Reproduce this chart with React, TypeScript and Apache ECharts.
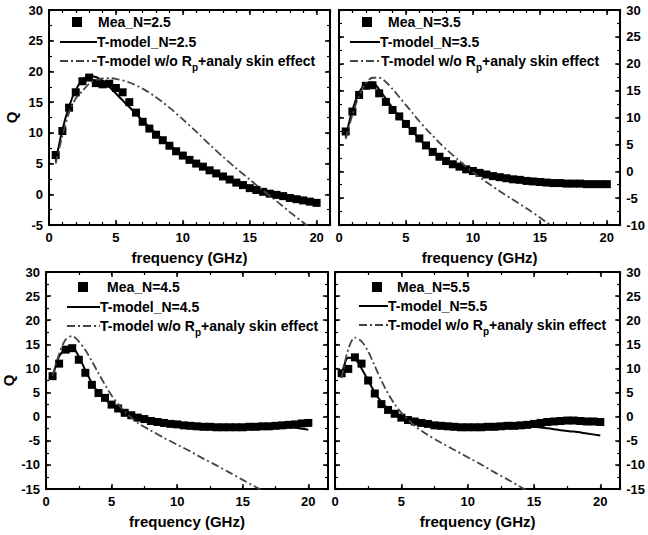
import React, { useEffect, useRef } from "react";
import * as echarts from "echarts";

// ---------------- data ----------------
const measFreq = [0.5, 1, 1.5, 2, 2.5, 3, 3.5, 4, 4.5, 5, 5.5, 6, 6.5, 7, 7.5, 8, 8.5, 9, 9.5, 10,
  10.5, 11, 11.5, 12, 12.5, 13, 13.5, 14, 14.5, 15, 15.5, 16, 16.5, 17, 17.5, 18, 18.5, 19, 19.5, 20];

const mea25 = [6.4, 10.3, 14.1, 16.6, 18.4, 19.0, 18.1, 17.9, 18.0, 17.3, 16.6, 15.0, 13.3, 11.8, 10.7, 9.7, 8.8, 7.9, 7.0, 6.3,
  5.6, 5.0, 4.5, 3.9, 3.4, 2.9, 2.4, 1.9, 1.5, 1.0, 0.7, 0.4, 0.1, -0.1, -0.3, -0.6, -0.8, -1.0, -1.2, -1.4];
const mea35 = [7.4, 11.1, 14.2, 15.9, 16.0, 14.5, 12.9, 11.4, 10.2, 8.8, 7.5, 6.1, 4.8, 3.6, 2.7, 1.9, 1.3, 0.85, 0.35, 0.05,
  -0.3, -0.6, -0.9, -1.1, -1.3, -1.5, -1.6, -1.8, -1.9, -2.0, -2.1, -2.2, -2.2, -2.3, -2.3, -2.3, -2.4, -2.4, -2.4, -2.4];
const mea45 = [8.4, 11.0, 13.9, 14.2, 11.8, 9.1, 6.6, 4.9, 3.9, 2.5, 1.7, 0.8, 0.3, -0.2, -0.5, -0.9, -1.1, -1.3, -1.5, -1.6,
  -1.8, -1.9, -2.0, -2.1, -2.1, -2.2, -2.2, -2.2, -2.2, -2.2, -2.1, -2.1, -2.0, -2.0, -1.9, -1.8, -1.7, -1.6, -1.4, -1.3];
const mea55 = [9.0, 9.9, 12.3, 11.0, 7.5, 4.8, 2.6, 1.4, 0.6, -0.2, -0.7, -1.0, -1.3, -1.5, -1.8, -1.9, -2.0, -2.1, -2.2, -2.2,
  -2.2, -2.2, -2.1, -2.1, -2.0, -1.9, -1.9, -1.8, -1.7, -1.5, -1.3, -1.1, -1.0, -0.9, -0.8, -0.8, -0.9, -1.0, -1.0, -1.1];

const modelFreq = [0.5, 1, 1.5, 2, 2.5, 3, 3.5, 4, 4.5, 5, 5.5, 6, 6.5, 7, 7.5, 8, 9, 10, 11, 12, 13, 14, 15, 16, 17, 18, 19, 20];
const tm25 = [5.3, 10.5, 14.3, 17.0, 18.6, 19.2, 19.1, 18.5, 17.5, 16.4, 15.3, 14.2, 13.1, 12.0, 10.9, 9.9, 8.0, 6.4, 5.0, 3.9, 2.9, 2.0, 1.2, 0.5, -0.1, -0.6, -1.0, -1.4];
const tm35 = [6.3, 11.4, 14.6, 16.3, 16.5, 15.2, 13.5, 11.8, 10.2, 8.8, 7.4, 6.0, 4.7, 3.6, 2.7, 1.9, 0.8, 0.0, -0.6, -1.1, -1.5, -1.8, -2.0, -2.2, -2.3, -2.3, -2.4, -2.4];
const tm45 = [8.0, 12.5, 14.0, 14.3, 12.5, 9.6, 7.0, 5.0, 3.6, 2.4, 1.4, 0.6, 0.0, -0.4, -0.7, -1.0, -1.4, -1.7, -1.9, -2.1, -2.2, -2.2, -2.2, -2.1, -2.0, -2.0, -2.3, -2.7];
const tm55 = [8.5, 12.2, 12.0, 10.0, 7.5, 5.0, 3.0, 1.6, 0.6, -0.1, -0.6, -1.0, -1.3, -1.5, -1.7, -1.9, -2.2, -2.2, -2.2, -2.1, -2.0, -1.9, -2.1, -2.4, -2.8, -3.1, -3.5, -3.9];

const ddFreq25 = [0.5, 1, 1.5, 2, 2.5, 3, 3.5, 4, 4.5, 5, 6, 7, 8, 9, 10, 11, 12, 13, 14, 15, 16, 17, 18, 19, 19.5];
const dd25 = [5.0, 9.5, 13.3, 15.6, 16.8, 18.0, 18.6, 18.85, 18.9, 18.8, 18.2, 17.2, 15.8, 14.1, 12.2, 10.2, 8.1, 6.1, 4.2, 2.4, 0.6, -1.1, -2.9, -4.6, -5.5];
const ddFreq35 = [0.5, 1, 1.5, 2, 2.5, 3, 3.5, 4, 4.5, 5, 5.5, 6, 6.5, 7, 7.5, 8, 9, 10, 11, 12, 13, 14, 15, 16];
const dd35 = [6.0, 10.5, 14.0, 16.3, 17.4, 17.4, 16.6, 15.3, 13.8, 12.3, 10.8, 9.3, 7.9, 6.6, 5.3, 4.1, 1.9, -0.2, -2.0, -3.7, -5.3, -6.9, -8.6, -10.4];
const ddFreq45 = [0.5, 1, 1.5, 2, 2.5, 3, 3.5, 4, 4.5, 5, 5.5, 6, 6.5, 7, 8, 9, 10, 11, 12, 13, 14, 15, 16, 16.5];
const dd45 = [8.5, 13.0, 16.0, 16.7, 15.6, 13.8, 11.5, 9.0, 6.6, 4.4, 2.6, 1.1, -0.2, -1.3, -2.9, -4.4, -5.8, -7.2, -8.7, -10.1, -11.6, -13.1, -14.6, -15.4];
const ddFreq55 = [0.5, 1, 1.5, 2, 2.5, 3, 3.5, 4, 4.5, 5, 5.5, 6, 7, 8, 9, 10, 11, 12, 13, 14, 14.5];
const dd55 = [8.0, 14.0, 16.4, 15.6, 13.5, 10.5, 7.5, 4.8, 2.6, 0.8, -0.6, -1.9, -3.8, -5.4, -6.9, -8.4, -9.9, -11.5, -13.0, -14.6, -15.4];

const meaNames = ["Mea_N=2.5", "Mea_N=3.5", "Mea_N=4.5", "Mea_N=5.5"];
const tmNames = ["T-model_N=2.5", "T-model_N=3.5", "T-model_N=4.5", "T-model_N=5.5"];
const ddName = "T-model w/o Rp+analy skin effect";
const xAxisName = "frequency (GHz)";
const yAxisName = "Q";

// ---------------- layout ----------------
const FONT = '"Liberation Sans", Arial, Helvetica, sans-serif';
const LEG_SIZE = 14;
const SUB_SIZE = 10;

const panels = [
  { grid: { left: 49, top: 10, width: 281, height: 215 }, xMax: 21, xMinor: 1, yMin: -5, labelsRight: false,
    mea: mea25, tm: tm25, ddF: ddFreq25, dd: dd25,
    lg: { sq: [77, 22], t1: 98, l: [60, 97], t2: 97, t3: 97, y: [22, 42, 61] } },
  { grid: { left: 339, top: 10, width: 283, height: 215 }, xMax: 21, xMinor: 1, yMin: -10, labelsRight: true,
    mea: mea35, tm: tm35, ddF: ddFreq35, dd: dd35,
    lg: { sq: [367, 22], t1: 388, l: [350, 380], t2: 380, t3: 381, y: [22, 42, 61] } },
  { grid: { left: 46, top: 272, width: 282, height: 217 }, xMax: 21.5, xMinor: 2.5, yMin: -15, labelsRight: false,
    mea: mea45, tm: tm45, ddF: ddFreq45, dd: dd45,
    lg: { sq: [83, 287], t1: 107, l: [67, 100], t2: 100, t3: 100, y: [287, 307, 326] } },
  { grid: { left: 335, top: 272, width: 287, height: 217 }, xMax: 21.5, xMinor: 2.5, yMin: -15, labelsRight: true,
    mea: mea55, tm: tm55, ddF: ddFreq55, dd: dd55,
    lg: { sq: [377, 287], t1: 397, l: [359, 388], t2: 388, t3: 388, y: [287, 306, 325] } },
];

function measure(text: string, size: number) {
  const c = document.createElement("canvas").getContext("2d");
  if (!c) return text.length * size * 0.55;
  c.font = `bold ${size}px ${FONT}`;
  return c.measureText(text).width;
}

export default function App() {
  const ref = useRef<HTMLDivElement>(null);

  useEffect(() => {
    if (!ref.current) return;
    const chart = echarts.init(ref.current, undefined, { renderer: "svg" });

    const grids: any[] = [];
    const xAxes: any[] = [];
    const yAxes: any[] = [];
    const series: any[] = [];
    const graphics: any[] = [];

    const lbl = { color: "#000", fontWeight: "bold", fontSize: 13, fontFamily: FONT };
    const nameStyle = { color: "#000", fontWeight: "bold", fontSize: 15, fontFamily: FONT };

    panels.forEach((p, gi) => {
      grids.push({ ...p.grid, containLabel: false });
      const xBase = { type: "value", gridIndex: gi, min: 0, max: p.xMax, splitLine: { show: false } };
      const xMajorIdx = xAxes.length;
      xAxes.push({
        ...xBase, position: "bottom", interval: 5,
        axisLine: { show: true, onZero: false, lineStyle: { color: "#000", width: 2 } },
        axisTick: { show: true, inside: true, length: 5, lineStyle: { color: "#000", width: 1.5 } },
        axisLabel: { ...lbl, margin: 6, showMaxLabel: false, formatter: (v: number) => (v % 5 === 0 ? String(v) : "") },
        name: xAxisName, nameLocation: "middle", nameGap: 25, nameTextStyle: nameStyle,
      });
      xAxes.push({
        ...xBase, position: "bottom", interval: p.xMinor,
        axisLine: { show: false, onZero: false },
        axisTick: { show: true, inside: true, length: 3, lineStyle: { color: "#000", width: 1.2 } },
        axisLabel: { show: false },
      });
      xAxes.push({
        ...xBase, position: "top", interval: 5,
        axisLine: { show: true, onZero: false, lineStyle: { color: "#000", width: 2 } },
        axisTick: { show: true, inside: true, length: 5, lineStyle: { color: "#000", width: 1.5 } },
        axisLabel: { show: false },
      });
      xAxes.push({
        ...xBase, position: "top", interval: p.xMinor,
        axisLine: { show: false, onZero: false },
        axisTick: { show: true, inside: true, length: 3, lineStyle: { color: "#000", width: 1.2 } },
        axisLabel: { show: false },
      });

      const yBase = { type: "value", gridIndex: gi, min: p.yMin, max: 30, splitLine: { show: false } };
      const yMajorIdx = yAxes.length;
      const labelSide = p.labelsRight ? "right" : "left";
      const otherSide = p.labelsRight ? "left" : "right";
      yAxes.push({
        ...yBase, position: labelSide, interval: 5,
        axisLine: { show: true, onZero: false, lineStyle: { color: "#000", width: 2 } },
        axisTick: { show: true, inside: true, length: 5, lineStyle: { color: "#000", width: 1.5 } },
        axisLabel: { ...lbl, margin: 6 },
        ...(p.labelsRight ? {} : {
          name: yAxisName, nameLocation: "middle", nameGap: 30, nameRotate: 90, nameTextStyle: nameStyle,
        }),
      });
      yAxes.push({
        ...yBase, position: labelSide, interval: 2.5,
        axisLine: { show: false, onZero: false },
        axisTick: { show: true, inside: true, length: 3, lineStyle: { color: "#000", width: 1.2 } },
        axisLabel: { show: false },
      });
      yAxes.push({
        ...yBase, position: otherSide, interval: 5,
        axisLine: { show: true, onZero: false, lineStyle: { color: "#000", width: 2 } },
        axisTick: { show: true, inside: true, length: 5, lineStyle: { color: "#000", width: 1.5 } },
        axisLabel: { show: false },
      });
      yAxes.push({
        ...yBase, position: otherSide, interval: 2.5,
        axisLine: { show: false, onZero: false },
        axisTick: { show: true, inside: true, length: 3, lineStyle: { color: "#000", width: 1.2 } },
        axisLabel: { show: false },
      });

      series.push({
        name: tmNames[gi], type: "line", xAxisIndex: xMajorIdx, yAxisIndex: yMajorIdx,
        showSymbol: false, symbol: "none", smooth: 0.3,
        lineStyle: { color: "#000", width: 2 },
        data: modelFreq.map((f, i) => [f, p.tm[i]]), z: 3,
      });
      series.push({
        name: meaNames[gi], type: "scatter", xAxisIndex: xMajorIdx, yAxisIndex: yMajorIdx,
        symbol: "rect", symbolSize: 8, itemStyle: { color: "#000", opacity: 1 },
        data: measFreq.map((f, i) => [f, p.mea[i]]), z: 4,
      });
      series.push({
        name: ddName, type: "line", xAxisIndex: xMajorIdx, yAxisIndex: yMajorIdx,
        showSymbol: false, symbol: "none", smooth: 0.3, clip: true,
        lineStyle: { color: "#444", width: 1.8, type: [8, 3, 2, 3] },
        data: p.ddF.map((f, i) => [f, p.dd[i]]), z: 5,
      });

      const lg = p.lg;
      const textStyle = (t: string, size = LEG_SIZE) => ({
        text: t, fill: "#000", fontSize: size, fontWeight: "bold", fontFamily: FONT,
        verticalAlign: "middle", align: "left",
      });
      graphics.push({ type: "rect", shape: { x: lg.sq[0] - 5, y: lg.sq[1] - 5, width: 10, height: 10 }, style: { fill: "#000" } });
      graphics.push({ type: "text", x: lg.t1, y: lg.y[0], style: textStyle(meaNames[gi]) });
      graphics.push({ type: "line", shape: { x1: lg.l[0], y1: lg.y[1], x2: lg.l[1], y2: lg.y[1] }, style: { stroke: "#000", lineWidth: 2 } });
      graphics.push({ type: "text", x: lg.t2, y: lg.y[1], style: textStyle(tmNames[gi]) });
      graphics.push({ type: "line", shape: { x1: lg.l[0], y1: lg.y[2], x2: lg.l[1], y2: lg.y[2] }, style: { stroke: "#444", lineWidth: 1.8, lineDash: [8, 3, 2, 3] } });
      const part1 = "T-model w/o R";
      const w1 = measure(part1, LEG_SIZE);
      const wp = measure("p", SUB_SIZE);
      graphics.push({ type: "text", x: lg.t3, y: lg.y[2], style: textStyle(part1) });
      graphics.push({ type: "text", x: lg.t3 + w1, y: lg.y[2] + 6, style: textStyle("p", SUB_SIZE) });
      graphics.push({ type: "text", x: lg.t3 + w1 + wp, y: lg.y[2], style: textStyle("+analy skin effect") });
    });

    chart.setOption({
      animation: false,
      backgroundColor: "#fff",
      grid: grids,
      xAxis: xAxes,
      yAxis: yAxes,
      series,
      graphic: graphics,
    });

    return () => chart.dispose();
  }, []);

  return (
    <div
      ref={ref}
      style={{ position: "absolute", left: 0, top: 0, width: 648, height: 535, background: "#fff" }}
    />
  );
}
